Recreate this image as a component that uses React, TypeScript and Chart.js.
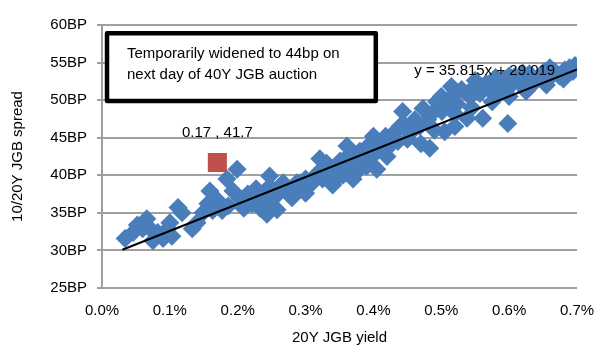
import React, { useEffect, useRef } from "react";
import { Chart, registerables } from "chart.js";

Chart.register(...registerables);

// 20Y JGB yield (%) and 10/20Y spread (bp)
const yieldPct = [
  0.034, 0.046, 0.052, 0.060, 0.066, 0.071, 0.075, 0.082, 0.090, 0.097,
  0.100, 0.103, 0.112, 0.118, 0.133, 0.140, 0.149, 0.156, 0.159, 0.163,
  0.171, 0.177, 0.186, 0.184, 0.199, 0.193, 0.203, 0.209, 0.215, 0.221,
  0.227, 0.233, 0.239, 0.244, 0.247, 0.255, 0.262, 0.267, 0.274, 0.284,
  0.292, 0.300, 0.309, 0.318, 0.325, 0.331, 0.339, 0.345, 0.351, 0.358,
  0.362, 0.368, 0.374, 0.380, 0.387, 0.392, 0.398, 0.405, 0.412, 0.418,
  0.426, 0.432, 0.436, 0.443, 0.448, 0.454, 0.461, 0.468, 0.473, 0.480,
  0.486, 0.493, 0.501, 0.505, 0.508, 0.515, 0.520, 0.523, 0.530, 0.538,
  0.542, 0.549, 0.557, 0.561, 0.566, 0.571, 0.579, 0.586, 0.591, 0.598,
  0.601, 0.608, 0.616, 0.623, 0.630, 0.638, 0.645, 0.652, 0.660, 0.667,
  0.674, 0.682, 0.689, 0.694,
  0.405, 0.390, 0.370, 0.321, 0.361, 0.400, 0.439, 0.483, 0.470, 0.247,
  0.287, 0.233, 0.243, 0.258, 0.280, 0.300, 0.340, 0.355, 0.420, 0.450,
  0.490, 0.520, 0.545, 0.575, 0.600, 0.625, 0.655, 0.680, 0.550, 0.580,
  0.620, 0.660, 0.697, 0.600, 0.515, 0.500,
];
const spreadBp = [
  31.6, 32.4, 33.4, 32.9, 34.2, 32.9, 31.3, 32.4, 31.6, 32.9,
  33.7, 31.9, 35.7, 35.0, 32.9, 33.7, 35.0, 36.2, 37.9, 35.3,
  36.6, 35.3, 35.9, 39.5, 40.8, 37.9, 36.9, 35.6, 37.5, 36.2,
  38.2, 36.6, 37.7, 36.0, 38.5, 37.1, 37.9, 39.0, 37.7, 38.5,
  39.0, 39.5, 38.9, 40.3, 39.5, 41.6, 40.6, 39.5, 41.9, 40.8,
  42.5, 41.6, 40.3, 43.2, 42.2, 43.9, 42.5, 44.5, 43.5, 45.2,
  44.1, 45.8, 44.5, 48.5, 46.5, 45.6, 47.4, 46.5, 48.9, 47.4,
  48.2, 49.8, 48.5, 45.8, 49.4, 50.5, 46.5, 49.5, 51.4, 47.6,
  50.5, 51.8, 50.9, 47.6, 52.2, 51.4, 52.4, 51.1, 52.7, 46.9,
  51.8, 53.1, 52.2, 52.7, 53.5, 52.4, 53.2, 53.8, 53.0, 53.8,
  53.2, 54.0, 54.3, 53.8,
  40.8, 41.2, 39.5, 42.2, 43.9, 45.2, 46.5, 43.6, 44.2, 39.9,
  39.0, 35.6, 34.8, 35.4, 37.0, 37.6, 38.7, 40.0, 42.5, 44.8,
  46.0, 48.2, 49.0, 49.8, 50.5, 51.2, 52.0, 52.8, 52.6, 53.0,
  53.6, 54.3, 54.6, 53.2, 51.8, 50.5,
];

// Highlighted observation
const highlightX = [0.17];
const highlightY = [41.7];

// Regression: y = 35.815x + 29.019
const trendSlope = 35.815;
const trendIntercept = 29.019;
const trendRangeX = [0.03, 0.7];

const yTicks = [25, 30, 35, 40, 45, 50, 55, 60];
const xTicks = [0, 0.1, 0.2, 0.3, 0.4, 0.5, 0.6, 0.7];

const boxLines = ["Temporarily widened to 44bp on", "next day of 40Y JGB auction"];
const eqText = "y = 35.815x + 29.019";
const pointLabel = "0.17 , 41.7";

const FONT = "'Liberation Sans', Arial, sans-serif";

const annotPlugin = {
  id: "annot",
  afterDatasetsDraw(chart: any) {
    const { ctx, scales } = chart;
    const xs = scales.x;
    const ys = scales.y;
    ctx.save();
    // box
    const bx0 = xs.getPixelForValue(0.0074);
    const bx1 = xs.getPixelForValue(0.4035);
    const by0 = ys.getPixelForValue(58.9);
    const by1 = ys.getPixelForValue(49.9);
    ctx.fillStyle = "#ffffff";
    ctx.fillRect(bx0, by0, bx1 - bx0, by1 - by0);
    ctx.lineWidth = 4.5;
    ctx.strokeStyle = "#000000";
    ctx.lineJoin = "round";
    ctx.strokeRect(bx0, by0, bx1 - bx0, by1 - by0);
    ctx.fillStyle = "#000000";
    ctx.font = "15px " + FONT;
    ctx.textBaseline = "middle";
    ctx.textAlign = "left";
    ctx.fillText(boxLines[0], bx0 + 20, by0 + 21);
    ctx.fillText(boxLines[1], bx0 + 20, by0 + 42);
    // equation
    ctx.textAlign = "center";
    ctx.fillText(eqText, xs.getPixelForValue(0.564), ys.getPixelForValue(53.9));
    // point label
    ctx.fillText(
      pointLabel,
      xs.getPixelForValue(highlightX[0]),
      ys.getPixelForValue(highlightY[0]) - 30
    );
    ctx.restore();
  },
};

export default function App() {
  const ref = useRef<HTMLCanvasElement>(null);
  useEffect(() => {
    const scatter = yieldPct.map((x, i) => ({ x, y: spreadBp[i] }));
    const hl = highlightX.map((x, i) => ({ x, y: highlightY[i] }));
    const trend = trendRangeX.map((x) => ({ x, y: trendSlope * x + trendIntercept }));
    const chart = new Chart(ref.current as HTMLCanvasElement, {
      type: "scatter",
      data: {
        datasets: [
          {
            label: "trend",
            data: trend,
            showLine: true,
            borderColor: "#000000",
            borderWidth: 2,
            pointRadius: 0,
            fill: false,
          } as any,
          {
            label: "highlight",
            data: hl,
            pointStyle: "rect",
            pointRadius: 13.5,
            backgroundColor: "#c0504d",
            borderColor: "#c0504d",
            borderWidth: 0,
          },
          {
            label: "spread",
            data: scatter,
            pointStyle: "rectRot",
            pointRadius: 9.5,
            backgroundColor: "#4a7ebb",
            borderColor: "#4a7ebb",
            borderWidth: 0,
          },
        ],
      },
      options: {
        animation: false,
        responsive: true,
        maintainAspectRatio: false,
        layout: { padding: { top: 25, right: 17, left: 0, bottom: 0 } },
        plugins: {
          legend: { display: false },
          tooltip: { enabled: false },
        },
        scales: {
          x: {
            type: "linear",
            min: 0,
            max: 0.7,
            afterBuildTicks: (s: any) => {
              s.ticks = xTicks.map((v) => ({ value: v }));
            },
            afterFit: (s: any) => {
              s.height = 59;
              s.paddingLeft = 0;
              s.paddingRight = 0;
            },
            grid: { display: false, drawTicks: false },
            border: { display: false },
            ticks: {
              padding: 14,
              color: "#000000",
              font: { family: FONT, size: 15 },
              callback: (v: any) => Number(v).toFixed(1) + "%",
            },
            title: {
              display: true,
              text: "20Y JGB yield",
              color: "#000000",
              font: { family: FONT, size: 15 },
              padding: { top: 0, bottom: 0 },
            },
          },
          y: {
            type: "linear",
            min: 25,
            max: 60,
            afterBuildTicks: (s: any) => {
              s.ticks = yTicks.map((v) => ({ value: v }));
            },
            afterFit: (s: any) => {
              s.width = 102;
              s.paddingTop = 0;
              s.paddingBottom = 0;
            },
            grid: {
              color: "#a0a0a0",
              lineWidth: 2,
              drawTicks: true,
              tickLength: 5,
            },
            border: { display: true, color: "#a0a0a0", width: 2 },
            ticks: {
              padding: 10,
              color: "#000000",
              font: { family: FONT, size: 15 },
              callback: (v: any) => v + "BP",
            },
            title: {
              display: true,
              text: "10/20Y JGB spread",
              color: "#000000",
              font: { family: FONT, size: 15 },
              padding: { top: 9, bottom: 0 },
            },
          },
        },
      },
      plugins: [annotPlugin],
    });
    return () => chart.destroy();
  }, []);
  return (
    <div style={{ position: "fixed", left: 0, top: 0, width: 594, height: 347, background: "#fff" }}>
      <canvas ref={ref} />
    </div>
  );
}
